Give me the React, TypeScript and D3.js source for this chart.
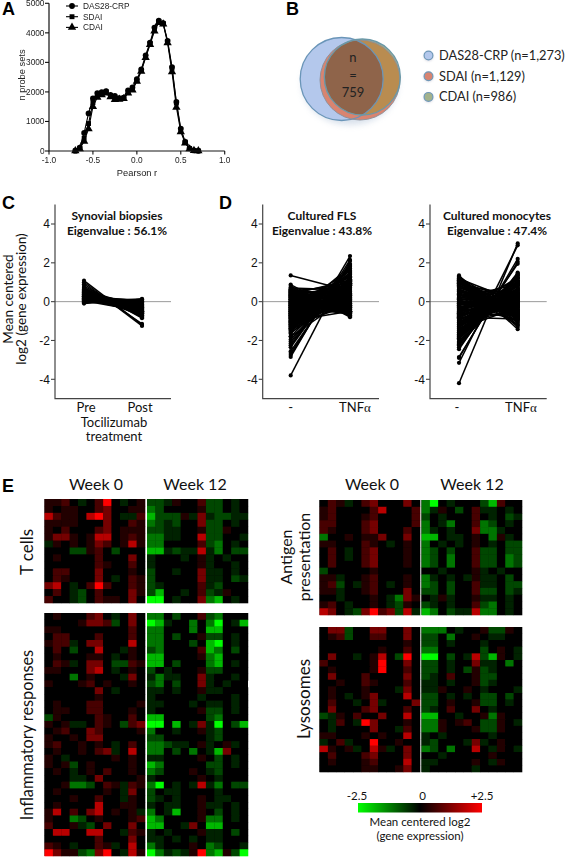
import React from "react";
import * as D3 from "d3";

// ---------- Panel A ----------
const pearsonR = [-0.7,-0.65,-0.6,-0.55,-0.5,-0.45,-0.4,-0.35,-0.3,-0.25,-0.2,-0.15,-0.1,-0.05,0,0.05,0.1,0.15,0.2,0.25,0.3,0.35,0.4,0.45,0.5,0.55,0.6,0.65,0.7];
const das28 = [10,110,610,1270,1780,1960,1990,2030,1900,1870,1790,1810,2050,2150,2430,2760,3240,3670,4180,4410,4330,3730,2840,1660,760,310,90,20,5];
const sdai  = [5,90,430,930,1640,1900,1950,2000,1880,1800,1770,1790,1990,2100,2380,2720,3180,3640,4100,4380,4310,3700,2800,1620,720,300,85,15,5];
const cdai  = [5,70,330,750,1500,1820,1900,1960,1830,1740,1750,1770,1960,2060,2360,2700,3160,3600,4060,4350,4300,3660,2680,1480,650,270,70,15,3];
const xTicksA = [-1,-0.5,0,0.5,1];
const yTicksA = [0,1000,2000,3000,4000,5000];
const legendA = ["DAS28-CRP","SDAI","CDAI"];

// ---------- Panel B ----------
const vennLegend = ["DAS28-CRP (n=1,273)","SDAI (n=1,129)","CDAI (n=986)"];
const vennFills = ["#b4c8ec","#d98470","#a3b28c"];

// ---------- Panels C / D : [before, after] for each gene ----------
const synovial: [number,number][] = [
[1.08,-1.2],[1.0,-1.25],[0.9,-1.15],[0.8,-0.85],[0.72,-0.8],[0.7,-0.72],[0.66,-0.6],[0.62,-0.75],[0.6,-0.5],[0.58,-0.66],[0.55,-0.45],[0.52,-0.7],[0.5,-0.6],[0.48,-0.4],[0.45,-0.55],[0.42,-0.3],[0.4,-0.62],[0.38,-0.48],[0.36,-0.2],[0.34,-0.5],[0.32,-0.35],[0.3,-0.58],[0.28,-0.25],[0.26,-0.42],[0.24,-0.1],[0.22,-0.52],[0.2,-0.3],[0.18,-0.15],[0.16,-0.45],[0.14,-0.05],[0.12,-0.35],[0.1,-0.2],[0.08,0],[0.06,-0.28],[0.04,0.05],[0.02,-0.12],[0,0.1],[-0.03,-0.05],[-0.06,0.15],[-0.1,0.12],[0.5,-0.25],[0.35,-0.72],[0.28,-0.64],[0.15,-0.56],[0.44,-0.15],[0.3,0.02],[0.2,0.08],[0.1,-0.42],[0.6,-0.3],[0.05,-0.5]
];
const fls: [number,number][] = [
[1.35,0.55],[-3.8,2.1],[-2.85,2.35],[-2.75,2.15],[-2.65,1.95],[-2.55,1.85],[0.88,-0.75],[0.8,-0.8],[0.72,-0.7],[0.65,-0.6],[0.6,-0.55],[0.55,-0.72],[0.5,-0.62],[0.45,-0.5],[0.4,-0.66],[0.35,-0.45],[0.3,-0.5],[0.25,-0.4],[0.2,-0.3],[0.15,-0.55],[0.1,-0.35],[0.05,-0.2],[0,-0.25],[-0.05,-0.1],[-0.1,0.05],[-0.15,-0.3],[-0.2,0.1],[-0.25,0],[-0.3,0.15],[-0.35,0.2],[-0.4,0.05],[-0.45,0.3],[-0.5,0.25],[-0.55,0.4],[-0.6,0.35],[-0.65,0.45],[-0.7,0.2],[-0.75,0.5],[-0.8,0.55],[-0.85,0.6],[-0.9,0.4],[-0.95,0.65],[-1,0.7],[-1.05,0.6],[-1.1,0.8],[-1.15,0.75],[-1.2,0.9],[-1.25,0.7],[-1.3,0.95],[-1.35,1],[-1.4,0.85],[-1.45,1.05],[-1.55,1.1],[-1.65,1.15],[-1.8,1.25],[-1.95,1.3],[-2.05,1.45],[-2.15,1.55],[-2.25,1.7],[-2.35,1.9],
[0.7,0.6],[0.5,0.5],[0.4,0.72],[0.6,0.3],[0.3,0.45],[0.2,0.65],[0.1,0.3],[0,0.52],[-0.1,0.42],[-0.5,-0.5],[-0.6,-0.42],[-0.8,-0.3],[-1,-0.5],[-1.2,-0.2],[-1.4,0],[-0.3,-0.62],[-0.2,-0.4],[0,-0.5],[0.2,-0.2],[-0.7,0.95],[-0.5,1.15],[-0.3,1.3],[-0.9,1.5],[-0.2,0.85],[0,1.05],[-0.4,1.6],[-1.6,0.4],[-1.8,0.3],[-1.1,-0.1],[-0.4,-0.3],[0.3,0.1],[-0.15,0.75],
[0.62,0.1],[0.52,-0.1],[0.42,0.2],[0.32,-0.15],[0.22,0.35],[0.12,-0.05],[0.02,0.15],[-0.08,-0.2],[-0.18,0.32],[-0.28,-0.12],[-0.38,0.42],[-0.48,-0.2],[-0.58,0.05],[-0.68,-0.25],[-0.78,0.15],[-0.88,-0.1],[-0.98,0.25],[-1.08,0.1],[-1.18,0.3],[-1.28,0.2],[-1.38,0.45],[-1.48,0.35],[0.58,0.75],[0.48,0.95],[0.38,1.1],[0.12,0.9],[-0.02,1.25],[-0.62,1.4],[-1.02,1.7],[-0.72,1.8],[-0.32,0.95],[0.28,0.85]
];
const monocytes: [number,number][] = [
[-4.2,3.0],[-3.15,2.9],[-2.9,2.2],[-2.85,2.05],[-2.45,1.95],[-2.35,1.5],[-2.25,1.45],[-2.15,1.4],[-2.05,1.35],[-1.95,1.25],[-1.85,1.2],[-1.75,1.1],[-1.65,1.05],[-1.55,0.95],[-1.45,0.9],[-1.35,0.85],[-1.25,0.8],[-1.15,0.7],[-1.05,0.65],[-0.95,0.6],[-0.85,0.5],[-0.75,0.45],[-0.65,0.4],[-0.55,0.3],[-0.45,0.25],[-0.35,0.2],[-0.25,0.1],[-0.15,0.05],[-0.05,0],[0.05,-0.1],[0.15,-0.15],[0.25,-0.25],[0.35,-0.3],[0.45,-0.4],[0.55,-0.45],[0.65,-0.55],[0.75,-0.6],[0.85,-0.7],[0.95,-0.8],[1.05,-0.9],[1.15,-1.05],[1.25,-1.2],[1.3,-1.3],[1.35,-1.42],[1.2,-1.1],[1.1,-0.95],[1.0,-0.75],
[1.28,-0.6],[1.1,-0.4],[0.95,-0.3],[0.8,0],[0.7,0.1],[-2.1,0.9],[-1.9,0.7],[-1.7,0.6],[-1.5,0.5],[-1.3,0.35],[-1.1,0.4],[-0.9,0.2],[-0.7,0.1],[-2.2,1.0],[-1.6,1.35],[-1.2,1.2],[-0.8,1.05],[-0.5,0.8],[-0.3,0.6],[-1.0,-0.5],[-0.6,-0.7],[-0.3,-0.9],[0.1,-1.0],[0.4,-0.85],[0.6,-1.2],[-0.8,-0.9],[-1.4,-0.3],[0.9,0.3],[0.5,0.4],[0.3,0.2],[0.1,0.35],[-0.1,0.45],
[1.22,-0.9],[1.12,-0.7],[1.02,-0.55],[0.92,-0.5],[0.82,-0.4],[0.72,-0.2],[0.62,-0.25],[0.52,-0.1],[0.42,0],[0.32,0.05],[0.22,-0.05],[0.12,0.15],[0.02,-0.2],[-0.08,-0.1],[-0.18,0.2],[-0.28,-0.15],[-0.38,0.35],[-0.48,-0.05],[-0.58,0.15],[-0.68,-0.2],[-0.78,0.25],[-0.88,-0.1],[-0.98,0.35],[-1.08,0],[-1.18,0.25],[-1.28,0.55],[-1.38,0.1],[-1.48,0.7],[-1.58,0.25],[-1.68,0.85],[-1.78,0.4],[-1.88,1.0],[1.18,0.0],[0.98,0.1],[0.78,0.2],[0.58,-0.8],[0.38,-0.65],[0.18,-0.75],[0.2,0.9],[-0.2,1.1],[-0.6,1.25],[-0.4,-0.55]
];
const yTicksCD = [-4,-2,0,2,4];

// ---------- Panel E : one string per gene, 12 + 12 samples; a..e green, 1..5 red ----------
const tCells = [
"112.a.25.a.1"+"bba1..2bb.a.",
"1.11..23..11"+"cb....1bb.a.",
"4211.453.aa2"+"dbbb1a3abbaa",
"1111...3..21"+"cbab..3bb.a.",
"1.2...23.111"+"bbaa..1bb1..",
"1331.144.121"+"ccaa..4bb..a",
"a1.1.132.141"+"cc....2bc.a.",
"...bb12.b..."+"ddabaa4ac.bb",
".1....2...3."+"a...a.1a.a..",
"......21..2."+"a.....1a..a.",
".22...3...1."+"b..a..3aa.a.",
".21...3.a.21"+"b.....3aa.ba",
"34.a.252..21"+"ba....2ab...",
".2.ab.2...31"+"bd..a.2ba1..",
"2..ab.211.3."+"ee.a..3cd.a."
];
const inflammatory = [
".1...23.a.3."+"cc.b..2bc...",
"....1332b.3."+"eda..c.ce.ad",
"11........2."+"cc...c.dd...",
".22...2...2."+"cc.b..1bb.a.",
"122a.33...4."+"cc...b.de.a.",
".2.b..4..a1."+"bc....2dc.b.",
".1...11.a.1."+"dd....1cd...",
".21a.33.bb21"+"dd.b...cd.a.",
"11...34.a.1."+"b.a...1bb...",
"...c.1...a3."+"acaa..3a..a.",
"1...12.1..1."+"bc.b..3a.a.",
"......3.a..."+"aa.a..1aa...",
"......1....."+"a.....a...a.",
".1...22....1"+"aa...a.aa.a.",
".11..22...1."+"a.....1bb.a.",
"b1....21..2."+"dd.....bc...",
"1.1aa.21.b23"+"ee.d.a3ae.bd",
".12..32....1"+"c..a..1ab...",
"1..1.33....."+"bb.....ab...",
"12..1.1.a.2."+"ccbaa.1a.1a.",
".1..1.23a.4."+"cc.b.c.ad3..",
"1.a.....1.1."+"aa....1.b.a.",
"1.1b.1....1."+"dc.....bb.a.",
".1.a.1.2..1."+"cb...1.ab...",
"...aa.3....1"+"a.....1.a...",
"..1ccb.21a21"+"ce.a.a4ac.bb",
".1.....1.a3."+"b.aa....a...",
"...1..2..a1."+"ba.a..1.aa..",
".1....4..11."+"a.aa..1aa.a.",
"14.2.34.1.1a"+"c.ad..1.b.a.",
"1..cb.1...12"+"dc....1cc.a.",
"2..1ab.3..3."+"dd..a3.dd...",
".44..44..a21"+"a.a...1aa.b.",
"......2...3."+"aa.a.a.aa...",
"21.a..21a.4."+"ca...1.cb..a",
"5311bc35.a41"+"ecaba15cd1be"
];
const antigen = [
".21a.23...3."+"ce.a...bd2..",
"12....24...2"+"ca1.b.2aa.a.",
"12...12....2"+"b.a...2.a.ba",
"22...23....2"+"c.ac..2cb.a.",
"21...23...2."+"ca.a..3cca..",
"c..1.113..3."+"dd.aa.1.c1a.",
"11...21.a.1."+"c.a.a.1.a.bb",
".2.a.23...1."+"cb.b..2bb.bb",
".2.a.23...1."+"cb.c..2bb.cb",
".2...23...1."+"cb.c..2bb.cb",
"b.....1....."+"..a...1a.a..",
"11a..12...1."+"ca.a.a1aa.b.",
"12b.a12.a.1."+"cb.b..2aa.bb",
"11a..12...3."+"bb.b..2bb.ba",
"..a...1.ac31"+".a1a..1aa.a.",
"12.a..1.ab1."+"ba.a..2bc.a.",
"43.ab3523b4a"+"dc.baa4cc.a."
];
const lysosomes = [
".33b..33..3."+"ccc.a..1bb1.",
".12b..22..3."+"bb.c..1.aa..",
"..........1."+"bb.a...a....",
".......1..2."+"cc.....b.1.a",
".3..a.14.b5."+"ee.b.a4bd1.a",
"2.....15..3."+"bb.a..3aa.c.",
".1....15..2."+"bb.a.b1ba...",
".3...2....3."+"ba.2..1bb...",
"..1..21...2."+"aa.a..1ba...",
".1...1...a3."+"aa1..1.a...a",
".1.a.13...4."+"bb.a.a.bb.b.",
".2..a.3a...3"+"bb.1..1bb.a.",
".3...23...2."+"ba.2..3.a...",
"ba1.2..3..4."+"dd..a..1c1..",
".a2.a53...1."+"cc1.12.bb1.a",
".a....3..a2."+"cc1...1bb1..",
"11...1.1..4."+"a.a.....a...",
"a.2a..5..1.."+"ab...a3a.1..",
"41.1a.41a.3."+"cb.c..4.a1.a",
".2...23...3."+"..a.....1...",
".1...12...4."+"aa....1.a1..",
".....11..13."+"a.....a.....",
];

// ---------- colour scale ----------
const colorDomain = [-2.5,0,2.5];
const colorLabels = ["-2.5","0","+2.5"];
const weekLabels = ["Week 0","Week 12"];
const levels = [0.35,0.7,1.15,1.8,2.5];

const heatColor = D3.scaleLinear<string>().domain(colorDomain).range(["#00ff00","#000000","#ff0000"]);
const decode = (c: string) => {
  if (c === ".") return 0;
  const g = "abcde".indexOf(c);
  if (g >= 0) return -levels[g];
  return levels[Number(c) - 1];
};

const LATO = "Lato, Carlito, sans-serif";
const ARIAL = "'Liberation Sans', Arial, sans-serif";

function Heat({ rows, x0, x1, x2, x3, y0, y1, id }: any) {
  const n = rows.length;
  const yS = D3.scaleBand<number>().domain(D3.range(n)).range([y0, y1]);
  const xL = D3.scaleBand<number>().domain(D3.range(12)).range([x0, x1]);
  const xR = D3.scaleBand<number>().domain(D3.range(12)).range([x2, x3]);
  return (
    <g filter="url(#soft)">
      <rect x={x0} y={y0} width={x1 - x0} height={y1 - y0} fill="#000" />
      <rect x={x2} y={y0} width={x3 - x2} height={y1 - y0} fill="#000" />
      {rows.map((r: string, i: number) =>
        r.split("").slice(0, 24).map((c: string, j: number) => (
          <rect key={`${id}-${i}-${j}`} x={j < 12 ? xL(j) : xR(j - 12)} y={yS(i)} width={xL.bandwidth() + 0.3} height={yS.bandwidth() + 0.3} fill={heatColor(decode(c))} />
        ))
      )}
    </g>
  );
}

function PairPanel({ pairs, axisX, xA, xB, xEnd, title, eig, titleX, labels }: any) {
  const y = D3.scaleLinear().domain([-4, 4]).range([379.3, 224]);
  return (
    <g>
      <line x1={axisX} x2={xEnd} y1={y(0)} y2={y(0)} stroke="#9a9a9a" strokeWidth={1} />
      {pairs.map((p: number[], i: number) => (
        <g key={i}>
          <line x1={xA} x2={xB} y1={y(p[0])} y2={y(p[1])} stroke="#000" strokeWidth={1.5} />
          <circle cx={xA} cy={y(p[0])} r={2.1} fill="#000" />
          <circle cx={xB} cy={y(p[1])} r={2.1} fill="#000" />
        </g>
      ))}
      <path d={`M${axisX},${y(5)}V${y(-5)}H${xEnd}`} fill="none" stroke="#444" strokeWidth={1.2} />
      {yTicksCD.map((t) => (
        <g key={t}>
          <line x1={axisX - 4} x2={axisX} y1={y(t)} y2={y(t)} stroke="#444" strokeWidth={1.1} />
          <text x={axisX - 5} y={y(t) + 4.2} textAnchor="end" fontFamily={ARIAL} fontSize={12} fill="#111">{t}</text>
        </g>
      ))}
      <text x={titleX} y={220} textAnchor="middle" fontFamily={LATO} fontWeight={700} fontSize={12} fill="#111">{title}</text>
      <text x={titleX} y={234.5} textAnchor="middle" fontFamily={LATO} fontWeight={700} fontSize={12} fill="#111">{eig}</text>
      {labels}
    </g>
  );
}

function PanelA() {
  const x = D3.scaleLinear().domain([-1, 1]).range([49, 224.7]);
  const y = D3.scaleLinear().domain([0, 5000]).range([151, 3.3]);
  const line = D3.line<number>().x((_, i) => x(pearsonR[i])).y((v) => y(v));
  const sym = [D3.symbolCircle, D3.symbolSquare, D3.symbolTriangle];
  const series = [cdai, sdai, das28];
  const symIdx = [2, 1, 0];
  const gen = (k: number) => D3.symbol().type(sym[k]).size(k === 2 ? 30 : k === 1 ? 24 : 26)() as string;
  return (
    <g filter="url(#softA)">
      {series.map((s, k) => (
        <g key={k}>
          <path d={line(s) as string} fill="none" stroke="#000" strokeWidth={1.1} />
          {s.map((v, i) => (
            <path key={i} d={gen(symIdx[k])} transform={`translate(${x(pearsonR[i])},${y(v)})`} fill="#000" />
          ))}
        </g>
      ))}
      <path d={`M49,${y(5000)}V151H224.7`} fill="none" stroke="#111" strokeWidth={1.2} />
      {yTicksA.map((t) => (
        <g key={t}>
          <line x1={45} x2={49} y1={y(t)} y2={y(t)} stroke="#111" strokeWidth={1.1} />
          <text x={44.5} y={y(t) + 3} textAnchor="end" fontFamily={ARIAL} fontSize={8.3} fill="#222">{t}</text>
        </g>
      ))}
      {xTicksA.map((t) => (
        <g key={t}>
          <line x1={x(t)} x2={x(t)} y1={151} y2={154.5} stroke="#111" strokeWidth={1.1} />
          <text x={x(t)} y={163} textAnchor="middle" fontFamily={ARIAL} fontSize={8.3} fill="#222">{t.toFixed(1)}</text>
        </g>
      ))}
      <text x={137} y={176} textAnchor="middle" fontFamily={ARIAL} fontSize={9.3} fill="#222">Pearson r</text>
      <text transform="translate(24.5,75) rotate(-90)" textAnchor="middle" fontFamily={ARIAL} fontSize={9.3} fill="#222">n probe sets</text>
      {legendA.map((l, i) => (
        <g key={l}>
          <line x1={66} x2={78} y1={6 + i * 10.7} y2={6 + i * 10.7} stroke="#000" strokeWidth={1.1} />
          <path d={gen(i)} transform={`translate(72,${6 + i * 10.7})`} fill="#000" />
          <text x={83} y={9 + i * 10.7} fontFamily={ARIAL} fontSize={8.3} fill="#222">{l}</text>
        </g>
      ))}
    </g>
  );
}

function PanelB() {
  const das = { cx: 341.7, cy: 79, r: 41.5 };
  const sd = { cx: 360, cy: 80, r: 40 };
  const cd = { cx: 362.3, cy: 77, r: 38 };
  const Circle = (c: any, p: any) => <circle cx={c.cx} cy={c.cy} r={c.r} {...p} />;
  return (
    <g>
      <ellipse cx={350} cy={84} rx={48} ry={41} fill="#9fb4cf" opacity={0.4} filter="url(#shadow)" />
      <defs>
        <clipPath id="cDas">{Circle(das, {})}</clipPath>
        <clipPath id="cSd">{Circle(sd, {})}</clipPath>
        <clipPath id="cCd">{Circle(cd, {})}</clipPath>
      </defs>
      {Circle(cd, { fill: vennFills[2] })}
      {Circle(das, { fill: vennFills[0] })}
      {Circle(sd, { fill: vennFills[1] })}
      <g clipPath="url(#cCd)">
        {Circle(sd, { fill: "#b98c50" })}
        <g clipPath="url(#cSd)">{Circle(das, { fill: "#8f644a" })}</g>
      </g>
      {Circle(das, { fill: "none", stroke: "#6a95b8", strokeWidth: 1.3 })}
      {Circle(sd, { fill: "none", stroke: "#8a8f98", strokeWidth: 0.9 })}
      {Circle(cd, { fill: "none", stroke: "#6a98a8", strokeWidth: 1.4 })}
      {["n", "=", "759"].map((t, i) => (
        <text key={t} x={353} y={62 + i * 17.5} textAnchor="middle" fontFamily={LATO} fontSize={13} fill="#222">{t}</text>
      ))}
      {vennLegend.map((t, i) => (
        <g key={t}>
          <circle cx={428.5} cy={56.5 + i * 20.7} r={4.8} fill="#bbc" opacity={0.5} filter="url(#shadow2)" />
          <circle cx={428.5} cy={55.5 + i * 20.7} r={4.4} fill={vennFills[i]} stroke="#6f98b8" strokeWidth={1.2} />
          <text x={439} y={60 + i * 20.7} fontFamily={LATO} fontSize={12.8} fill="#222">{t}</text>
        </g>
      ))}
    </g>
  );
}

const Tnf = ({ x }: any) => (
  <text x={x} y={412} textAnchor="middle" fontFamily={LATO} fontSize={13} fill="#111">TNF<tspan fontFamily="'Liberation Serif', serif">α</tspan></text>
);
const Lab = ({ x, y, size = 13, rotate, children, weight, anchor = "middle" }: any) => (
  <text x={rotate ? undefined : x} y={rotate ? undefined : y} transform={rotate ? `translate(${x},${y}) rotate(-90)` : undefined} textAnchor={anchor} fontFamily={LATO} fontSize={size} fontWeight={weight} fill="#111">{children}</text>
);
const Letter = ({ x, y, children }: any) => (
  <text x={x} y={y} fontFamily={ARIAL} fontWeight={700} fontSize={18} fill="#000">{children}</text>
);

export default function App() {
  const barGrad = D3.range(0, 1.0001, 0.1).map((t) => ({ t, c: heatColor(-2.5 + 5 * t) }));
  return (
    <svg width={567} height={858} viewBox="0 0 567 858" style={{ position: "absolute", left: 0, top: 0, background: "#fff", display: "block" }}>
      <defs>
        <filter id="soft" x="-2%" y="-2%" width="104%" height="104%"><feGaussianBlur stdDeviation="0.6" /></filter>
        <filter id="softA" x="-5%" y="-5%" width="110%" height="110%"><feGaussianBlur stdDeviation="0.35" /></filter>
        <filter id="shadow" x="-20%" y="-20%" width="140%" height="140%"><feGaussianBlur stdDeviation="3" /></filter>
        <filter id="shadow2" x="-50%" y="-50%" width="200%" height="200%"><feGaussianBlur stdDeviation="1" /></filter>
        <linearGradient id="bar">
          {barGrad.map((s) => <stop key={s.t} offset={s.t} stopColor={s.c} />)}
        </linearGradient>
      </defs>

      <Letter x={2} y={15}>A</Letter>
      <Letter x={286} y={15}>B</Letter>
      <Letter x={2} y={209}>C</Letter>
      <Letter x={219} y={209}>D</Letter>
      <Letter x={2} y={492}>E</Letter>

      <PanelA />
      <PanelB />

      <PairPanel pairs={synovial} axisX={55} xA={84} xB={142} xEnd={171} title="Synovial biopsies" eig="Eigenvalue : 56.1%" titleX={117} labels={<>
        <Lab x={86} y={412}>Pre</Lab>
        <Lab x={140} y={412}>Post</Lab>
        <Lab x={114} y={426.5}>Tocilizumab</Lab>
        <Lab x={114} y={441}>treatment</Lab>
      </>} />
      <Lab x={13} y={299} size={13.5} rotate>Mean centered</Lab>
      <Lab x={26} y={299} size={13.5} rotate>log2 (gene expression)</Lab>

      <PairPanel pairs={fls} axisX={262.7} xA={290.7} xB={350} xEnd={379} title="Cultured FLS" eig="Eigenvalue : 43.8%" titleX={322} labels={<>
        <Lab x={290.7} y={412}>-</Lab>
        <Tnf x={355} />
      </>} />
      <PairPanel pairs={monocytes} axisX={430} xA={459} xB={517.7} xEnd={546.7} title="Cultured monocytes" eig="Eigenvalue : 47.4%" titleX={497} labels={<>
        <Lab x={457} y={412}>-</Lab>
        <Tnf x={521} />
      </>} />

      {[96, 195].map((x, i) => <Lab key={x} x={x} y={490} size={16}>{weekLabels[i]}</Lab>)}
      {[372, 472].map((x, i) => <Lab key={x} x={x} y={490} size={16}>{weekLabels[i]}</Lab>)}

      <Heat id="t" rows={tCells} x0={44.5} x1={145} x2={147} x3={248} y0={499} y1={603} />
      <Heat id="i" rows={inflammatory} x0={44.5} x1={145} x2={147} x3={248} y0={613} y1={856} />
      <Heat id="a" rows={antigen} x0={319.5} x1={420} x2={421.5} x3={522} y0={500} y1={615} />
      <Heat id="l" rows={lysosomes} x0={319.5} x1={420} x2={421.5} x3={522} y0={627} y1={772} />

      <Lab x={33} y={552} size={17} rotate>T cells</Lab>
      <Lab x={33} y={735} size={16.3} rotate>Inflammatory responses</Lab>
      <Lab x={292} y={557} size={16} rotate>Antigen</Lab>
      <Lab x={309.5} y={557} size={16} rotate>presentation</Lab>
      <Lab x={309.5} y={699} size={17} rotate>Lysosomes</Lab>

      <rect x={358} y={803} width={124} height={9.5} fill="url(#bar)" />
      {[357, 422.7, 482].map((x, i) => <Lab key={x} x={x} y={800} size={11.5}>{colorLabels[i]}</Lab>)}
      <Lab x={420} y={826} size={11.5}>Mean centered log2</Lab>
      <Lab x={420} y={840} size={11.5}>(gene expression)</Lab>
    </svg>
  );
}
